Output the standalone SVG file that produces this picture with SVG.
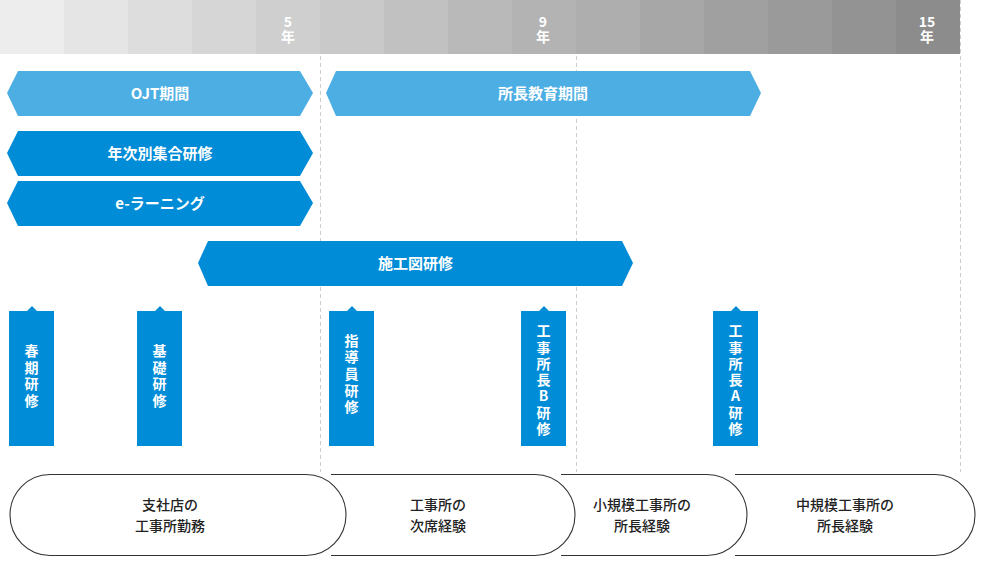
<svg xmlns="http://www.w3.org/2000/svg" width="992" height="566" viewBox="0 0 992 566">
<style>
text{font-family:"Noto Sans CJK JP","Noto Sans",sans-serif;}
.yr{fill:#fff;font-size:14px;font-weight:700;text-anchor:middle;}
.lbl{fill:#fff;font-size:15px;font-weight:700;text-anchor:middle;}
.vt{fill:#fff;font-size:14px;font-weight:700;text-anchor:middle;writing-mode:vertical-rl;text-orientation:upright;letter-spacing:2.7px;}
.vt7{letter-spacing:2.3px;}
.pt{fill:#222;font-size:14px;font-weight:500;text-anchor:middle;}
.light{fill:#4daee3;}
.dark{fill:#008cd6;}
.grid{stroke:#cccccc;stroke-width:1;stroke-dasharray:4 3;fill:none;}
.pill{fill:#fff;stroke:#333;stroke-width:1.1;}
</style>
<rect width="992" height="566" fill="#fff"/>
<g id="gridlines">
<line class="grid" x1="320.5" y1="0" x2="320.5" y2="472"/>
<line class="grid" x1="576.5" y1="0" x2="576.5" y2="472"/>
<line class="grid" x1="960.5" y1="0" x2="960.5" y2="472"/>
</g>
<g id="timeline">
<rect x="0" y="0" width="64" height="54" fill="#ededed"/>
<rect x="64" y="0" width="64" height="54" fill="#e5e5e5"/>
<rect x="128" y="0" width="64" height="54" fill="#dddddd"/>
<rect x="192" y="0" width="64" height="54" fill="#d6d6d6"/>
<rect x="256" y="0" width="64" height="54" fill="#cfcfcf"/>
<rect x="320" y="0" width="64" height="54" fill="#c9c9c9"/>
<rect x="384" y="0" width="64" height="54" fill="#c1c1c1"/>
<rect x="448" y="0" width="64" height="54" fill="#b9b9b9"/>
<rect x="512" y="0" width="64" height="54" fill="#b3b3b3"/>
<rect x="576" y="0" width="64" height="54" fill="#aeaeae"/>
<rect x="640" y="0" width="64" height="54" fill="#a7a7a7"/>
<rect x="704" y="0" width="64" height="54" fill="#a0a0a0"/>
<rect x="768" y="0" width="64" height="54" fill="#9a9a9a"/>
<rect x="832" y="0" width="64" height="54" fill="#939393"/>
<rect x="896" y="0" width="64" height="54" fill="#8c8c8c"/>
<text class="yr" x="288" y="27">5</text><text class="yr" x="288" y="42">年</text>
<text class="yr" x="543" y="27">9</text><text class="yr" x="543" y="42">年</text>
<text class="yr" x="927" y="27">15</text><text class="yr" x="927" y="42">年</text>
</g>
<g id="ojt">
<polygon class="light" points="7,93 18,71 300,71 313,93 300,116 18,116"/>
<text class="lbl" x="160" y="98.5">OJT期間</text>
</g>
<g id="shochou-kyouiku">
<polygon class="light" points="326,93 336,71 750,71 761,93 750,116 336,116"/>
<text class="lbl" x="543" y="98.5">所長教育期間</text>
</g>
<g id="nenji">
<polygon class="dark" points="7,153 18,131 300,131 313,153 300,176 18,176"/>
<text class="lbl" x="160" y="158.5">年次別集合研修</text>
</g>
<g id="elearning">
<polygon class="dark" points="7,203 18,181 300,181 313,203 300,226 18,226"/>
<text class="lbl" x="160" y="208.5">e-ラーニング</text>
</g>
<g id="sekouzu">
<polygon class="dark" points="198,263 208,241 622,241 633,263 622,286 208,286"/>
<text class="lbl" x="415.5" y="268.5">施工図研修</text>
</g>
<g id="shunki">
<path class="dark" d="M9,311 H27 L32,306 L37,311 H54 V446 H9 Z"/>
<text class="vt" x="31.5" y="377">春期研修</text>
</g>
<g id="kiso">
<path class="dark" d="M137,311 H155 L160,306 L165,311 H182 V446 H137 Z"/>
<text class="vt" x="159.5" y="377">基礎研修</text>
</g>
<g id="shidouin">
<path class="dark" d="M329,311 H347 L352,306 L357,311 H374 V446 H329 Z"/>
<text class="vt" x="351.5" y="375">指導員研修</text>
</g>
<g id="shochou-b">
<path class="dark" d="M521,311 H539 L544,306 L549,311 H566 V446 H521 Z"/>
<text class="vt vt7" x="543.5" y="381">工事所長B研修</text>
</g>
<g id="shochou-a">
<path class="dark" d="M713,311 H731 L736,306 L741,311 H758 V446 H713 Z"/>
<text class="vt vt7" x="735.5" y="381">工事所長A研修</text>
</g>
<g id="career4">
<path class="pill" d="M735,474.5 H935 A40,40.5 0 0 1 935,555.5 H735"/>
<text class="pt" x="845" y="510">中規模工事所の</text>
<text class="pt" x="845" y="531">所長経験</text>
</g>
<g id="career3">
<path class="pill" d="M561,474.5 H707 A40,40.5 0 0 1 707,555.5 H561"/>
<text class="pt" x="642" y="510">小規模工事所の</text>
<text class="pt" x="642" y="531">所長経験</text>
</g>
<g id="career2">
<path class="pill" d="M331,474.5 H535 A40,40.5 0 0 1 535,555.5 H331"/>
<text class="pt" x="438" y="510">工事所の</text>
<text class="pt" x="438" y="531">次席経験</text>
</g>
<g id="career1">
<path class="pill" d="M50,474.5 H306 A40,40.5 0 0 1 306,555.5 H50 A40,40.5 0 0 1 50,474.5 Z"/>
<text class="pt" x="170" y="510">支社店の</text>
<text class="pt" x="170" y="531">工事所勤務</text>
</g>
</svg>
